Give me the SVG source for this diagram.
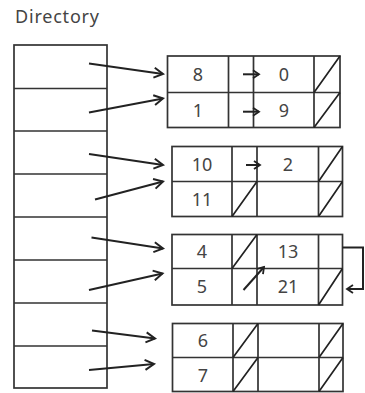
<svg xmlns="http://www.w3.org/2000/svg" width="365" height="393" viewBox="0 0 365 393">
<style>
.bx{fill:#fff;stroke:#333;stroke-width:1.7}
.ln{fill:none;stroke:#333;stroke-width:1.7}
.sl{fill:none;stroke:#222;stroke-width:1.7}
.t{font-family:"Noto Sans","Open Sans",sans-serif;font-size:18px;fill:#444;text-anchor:middle}
.ttl{font-family:"Noto Sans","Open Sans",sans-serif;font-size:18px;fill:#444}
.ar{fill:none;stroke:#222;stroke-width:2}
</style>
<defs>
<marker id="ah" markerUnits="userSpaceOnUse" markerWidth="14" markerHeight="12" refX="10" refY="5" orient="auto" overflow="visible">
<path d="M1,0 L10,5 L1,10" fill="none" stroke="#222" stroke-width="2"/>
</marker>
<marker id="as" markerUnits="userSpaceOnUse" markerWidth="10" markerHeight="10" refX="7" refY="4" orient="auto" overflow="visible">
<path d="M1,0 L7,4 L1,8" fill="none" stroke="#222" stroke-width="1.8"/>
</marker>
</defs>
<rect width="365" height="393" fill="#fff"/>
<text class="ttl" x="15" y="22.5" textLength="84">Directory</text>
<g id="directory">
<rect class="bx" x="14" y="45" width="93" height="343"/>
<path class="ln" d="M14,88.5H107M14,131H107M14,174H107M14,217H107M14,260H107M14,303H107M14,346H107"/>
</g>
<g id="bucket1">
<rect class="bx" x="167.5" y="56" width="172.5" height="71.5"/>
<path class="ln" d="M167.5,92.5H340M228.5,56V127.5M253.5,56V127.5M314,56V127.5"/>
<path class="sl" d="M314,92.5L340,56M314,127.5L340,92.5"/>
<text class="t" x="198" y="80.5">8</text>
<text class="t" x="284" y="80.5">0</text>
<text class="t" x="198" y="116.5">1</text>
<text class="t" x="284" y="116.5">9</text>
</g>
<g id="bucket2">
<rect class="bx" x="172" y="146.5" width="170.5" height="70"/>
<path class="ln" d="M172,181.5H342.5M232,146.5V216.5M257,146.5V216.5M318.5,146.5V216.5"/>
<path class="sl" d="M318.5,181.5L342.5,146.5M318.5,216.5L342.5,181.5M232,216.5L257,181.5"/>
<text class="t" x="202" y="170.5">10</text>
<text class="t" x="288" y="170.5">2</text>
<text class="t" x="202" y="205.5">11</text>
</g>
<g id="bucket3">
<rect class="bx" x="172" y="234.5" width="170.5" height="70.5"/>
<path class="ln" d="M172,268.5H342.5M232,234.5V305M257,234.5V305M318.5,234.5V305"/>
<path class="sl" d="M232,268.5L257,234.5M318.5,305L342.5,268.5"/>
<text class="t" x="202" y="258">4</text>
<text class="t" x="288" y="258">13</text>
<text class="t" x="202" y="293">5</text>
<text class="t" x="288" y="293">21</text>
</g>
<g id="bucket4">
<rect class="bx" x="172.5" y="323.5" width="170.5" height="68"/>
<path class="ln" d="M172.5,357.5H343M233,323.5V391.5M258,323.5V391.5M319,323.5V391.5"/>
<path class="sl" d="M233,357.5L258,323.5M233,391.5L258,357.5M319,357.5L343,323.5M319,391.5L343,357.5"/>
<text class="t" x="203" y="347">6</text>
<text class="t" x="203" y="381.5">7</text>
</g>
<g id="connectors">
<path class="ar" marker-end="url(#ah)" d="M89,63.5L163,74"/>
<path class="ar" marker-end="url(#ah)" d="M89,112.5L163,98.5"/>
<path class="ar" marker-end="url(#ah)" d="M89,154L163,165"/>
<path class="ar" marker-end="url(#ah)" d="M95,199.5L163,181.5"/>
<path class="ar" marker-end="url(#ah)" d="M91.5,237.5L163,248.5"/>
<path class="ar" marker-end="url(#ah)" d="M89,290L162.5,273.5"/>
<path class="ar" marker-end="url(#ah)" d="M92,330.5L155,338.5"/>
<path class="ar" marker-end="url(#ah)" d="M89,370L154,364"/>
<path class="ar" marker-end="url(#as)" d="M243,74.3H259"/>
<path class="ar" marker-end="url(#as)" d="M243,111.7H259"/>
<path class="ar" marker-end="url(#as)" d="M246,165H260"/>
<path class="ar" marker-end="url(#as)" d="M243.5,290L264,267"/>
<path class="ar" marker-end="url(#as)" d="M342.5,247.5H363V289H347"/>
</g>
</svg>
